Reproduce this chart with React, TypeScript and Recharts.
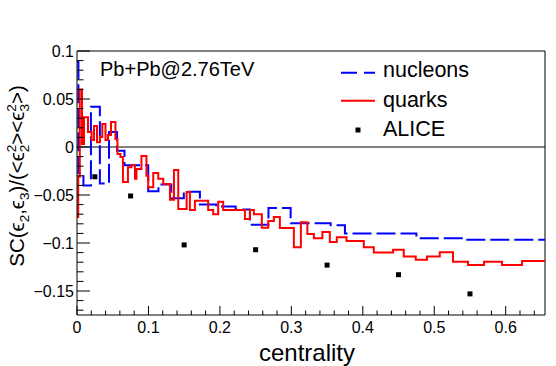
import React from 'react';
import { ComposedChart, Line, Scatter, XAxis, YAxis, ReferenceLine } from 'recharts';

// nucleons histogram: left bin edges and bin values (last repeated to close at right edge)
const nucleonEdges = [0, 0.002, 0.009, 0.0195, 0.032, 0.0448, 0.056, 0.0665, 0.0997, 0.114, 0.132, 0.1495, 0.172, 0.195, 0.222, 0.242, 0.268, 0.299, 0.355, 0.375, 0.475, 0.5425, 0.655];
const nucleonValues = [0.089, -0.027, -0.040, 0.042, -0.038, 0.0155, -0.004, -0.019, -0.046, -0.039, -0.0535, -0.0465, -0.060, -0.062, -0.065, -0.081, -0.0635, -0.0795, -0.0816, -0.090, -0.095, -0.0965, -0.0965];

// quarks histogram
const quarkEdges = [0, 0.0017, 0.0039, 0.007, 0.0098, 0.0154, 0.0203, 0.0238, 0.028, 0.0322, 0.0354, 0.0399, 0.0434, 0.0476, 0.0538, 0.0566, 0.0608, 0.0643, 0.0713, 0.0762, 0.0811, 0.0832, 0.0902, 0.0972, 0.0997, 0.1067, 0.1137, 0.1207, 0.1301, 0.1357, 0.1417, 0.1534, 0.158, 0.165, 0.1836, 0.1906, 0.1976, 0.2046, 0.235, 0.242, 0.2476, 0.2587, 0.2676, 0.2755, 0.2839, 0.3035, 0.3133, 0.3224, 0.3315, 0.3434, 0.3538, 0.3636, 0.3772, 0.4014, 0.4154, 0.4424, 0.4573, 0.4741, 0.4899, 0.5077, 0.5263, 0.5473, 0.5696, 0.5948, 0.6228, 0.655];
const quarkValues = [-0.073, -0.031, 0.060, 0.003, 0.031, 0.0156, 0.0073, 0.022, 0.005, 0.0104, 0.024, 0.0073, 0.0125, 0.026, 0.0083, -0.0073, -0.0104, -0.0365, -0.021, -0.019, -0.033, -0.023, -0.0094, -0.030, -0.042, -0.027, -0.033, -0.0385, -0.055, -0.024, -0.0646, -0.047, -0.0656, -0.056, -0.0656, -0.070, -0.057, -0.0656, -0.075, -0.0656, -0.070, -0.084, -0.077, -0.073, -0.0844, -0.1045, -0.0784, -0.0906, -0.095, -0.0885, -0.099, -0.094, -0.098, -0.1045, -0.110, -0.107, -0.114, -0.1174, -0.114, -0.1097, -0.1195, -0.123, -0.1195, -0.123, -0.1188, -0.1188];

// ALICE data points
const aliceX = [0.025, 0.075, 0.15, 0.25, 0.35, 0.45, 0.55];
const aliceY = [-0.031, -0.051, -0.102, -0.107, -0.123, -0.133, -0.153];

// axis ticks
const xTicks = [0, 0.02, 0.04, 0.06, 0.08, 0.1, 0.12, 0.14, 0.16, 0.18, 0.2, 0.22, 0.24, 0.26, 0.28, 0.3, 0.32, 0.34, 0.36, 0.38, 0.4, 0.42, 0.44, 0.46, 0.48, 0.5, 0.52, 0.54, 0.56, 0.58, 0.6, 0.62, 0.64];
const xMajor = [0, 0.1, 0.2, 0.3, 0.4, 0.5, 0.6];
const yTicks = [-0.17, -0.16, -0.15, -0.14, -0.13, -0.12, -0.11, -0.1, -0.09, -0.08, -0.07, -0.06, -0.05, -0.04, -0.03, -0.02, -0.01, 0, 0.01, 0.02, 0.03, 0.04, 0.05, 0.06, 0.07, 0.08, 0.09, 0.1];
const yMajor = [-0.15, -0.1, -0.05, 0, 0.05, 0.1];

const X_DOMAIN: [number, number] = [0, 0.655];
const Y_DOMAIN: [number, number] = [-0.175, 0.1];

const nucleonData = nucleonEdges.map((x, i) => ({ x, y: nucleonValues[i] }));
const quarkData = quarkEdges.map((x, i) => ({ x, y: quarkValues[i] }));
const aliceData = aliceX.map((x, i) => ({ x, y: aliceY[i] }));

const FONT = '"Liberation Sans", Arial, Helvetica, sans-serif';

const isIn = (v: number, arr: number[]) => arr.some((a) => Math.abs(a - v) < 1e-9);
const fmt = (v: number) => {
  const s = String(Math.abs(v));
  return v < 0 ? '\u2212' + s : s;
};

const XTick = (props: any) => {
  const { x, y, payload } = props;
  const v = payload.value;
  const major = isIn(v, xMajor);
  return (
    <g>
      <line x1={x} x2={x} y1={y} y2={y - (major ? 9 : 4.5)} stroke="#000" strokeWidth={1} />
      {major && (
        <text x={x} y={y + 18} textAnchor="middle" fontSize={16} fontFamily={FONT} fill="#000">
          {fmt(v)}
        </text>
      )}
    </g>
  );
};

const YTick = (props: any) => {
  const { x, y, payload } = props;
  const v = payload.value;
  const major = isIn(v, yMajor);
  return (
    <g>
      <line x1={x} x2={x + (major ? 13 : 6.5)} y1={y} y2={y} stroke="#000" strokeWidth={1} />
      {major && (
        <text x={x - 3} y={y} textAnchor="end" dominantBaseline="central" fontSize={16} fontFamily={FONT} fill="#000">
          {fmt(v)}
        </text>
      )}
    </g>
  );
};

const YTitle = (props: any) => {
  const vb = props.viewBox || { x: 0, y: 51, width: 77, height: 264 };
  const cx = vb.x + 24;
  const cy = vb.y + vb.height / 2 - 7;
  const s = 13.5;
  return (
    <text
      transform={`rotate(-90 ${cx} ${cy})`}
      x={cx}
      y={cy}
      textAnchor="middle"
      fontSize={20.5}
      fontFamily={FONT}
      fill="#000"
    >
      SC(ϵ
      <tspan dy={5} fontSize={s}>2</tspan>
      <tspan dy={-5}>,ϵ</tspan>
      <tspan dy={5} fontSize={s}>3</tspan>
      <tspan dy={-5}>)/(&lt;ϵ</tspan>
      <tspan dy={-8} fontSize={s}>2</tspan>
      <tspan dx={-7.5} dy={13} fontSize={s}>2</tspan>
      <tspan dy={-5}>&gt;&lt;ϵ</tspan>
      <tspan dy={-8} fontSize={s}>2</tspan>
      <tspan dx={-7.5} dy={13} fontSize={s}>3</tspan>
      <tspan dy={-5}>&gt;)</tspan>
    </text>
  );
};

const XTitle = (props: any) => {
  const vb = props.viewBox || { x: 77, y: 315, width: 468, height: 51 };
  return (
    <text x={vb.x + vb.width / 2 - 4} y={vb.y + 46} textAnchor="middle" fontSize={24} fontFamily={FONT} fill="#000">
      centrality
    </text>
  );
};

const Square = (props: any) => {
  const { cx, cy } = props;
  return <rect x={cx - 2.5} y={cy - 2.5} width={5} height={5} fill="#000" />;
};

export default function App() {
  return (
    <div style={{ position: 'absolute', left: 0, top: 0, width: 556, height: 366, background: '#fff' }}>
      <ComposedChart width={556} height={366} margin={{ top: 51, right: 11, bottom: 0, left: 0 }}>
        <XAxis
          type="number"
          dataKey="x"
          domain={X_DOMAIN}
          ticks={xTicks}
          interval={0}
          allowDataOverflow
          height={51}
          tickSize={0}
          tickMargin={0}
          tickLine={false}
          axisLine={{ stroke: '#000', strokeWidth: 1 }}
          tick={<XTick />}
          label={<XTitle />}
        />
        <YAxis
          type="number"
          dataKey="y"
          domain={Y_DOMAIN}
          ticks={yTicks}
          interval={0}
          allowDataOverflow
          width={77}
          tickSize={0}
          tickMargin={0}
          tickLine={false}
          axisLine={{ stroke: '#000', strokeWidth: 1 }}
          tick={<YTick />}
          label={<YTitle />}
        />
        <ReferenceLine y={0} stroke="#000" strokeWidth={1} />
        <ReferenceLine y={0.1} stroke="#000" strokeWidth={1} />
        <ReferenceLine x={0.655} stroke="#000" strokeWidth={1} />
        <Line
          data={nucleonData}
          dataKey="y"
          type="stepAfter"
          stroke="#0000ff"
          strokeWidth={2}
          strokeDasharray="19 5"
          dot={false}
          activeDot={false}
          isAnimationActive={false}
        />
        <Line
          data={quarkData}
          dataKey="y"
          type="stepAfter"
          stroke="#ff0000"
          strokeWidth={2}
          dot={false}
          activeDot={false}
          isAnimationActive={false}
        />
        <Scatter data={aliceData} dataKey="y" shape={<Square />} isAnimationActive={false} />
      </ComposedChart>
      <svg
        width={556}
        height={366}
        style={{ position: 'absolute', left: 0, top: 0, pointerEvents: 'none' }}
        fontFamily={FONT}
      >
        <text x={100} y={76} fontSize={20} fill="#000">Pb+Pb@2.76TeV</text>
        <line x1={341} x2={375} y1={72.7} y2={72.7} stroke="#0000ff" strokeWidth={2} strokeDasharray="16 7" />
        <text x={383} y={77} fontSize={21.5} fill="#000">nucleons</text>
        <line x1={341} x2={375} y1={100.7} y2={100.7} stroke="#ff0000" strokeWidth={2} />
        <text x={383} y={106.5} fontSize={21.5} fill="#000">quarks</text>
        <rect x={355.5} y={127.5} width={5} height={5} fill="#000" />
        <text x={383} y={136} fontSize={21.5} fill="#000">ALICE</text>
      </svg>
    </div>
  );
}
